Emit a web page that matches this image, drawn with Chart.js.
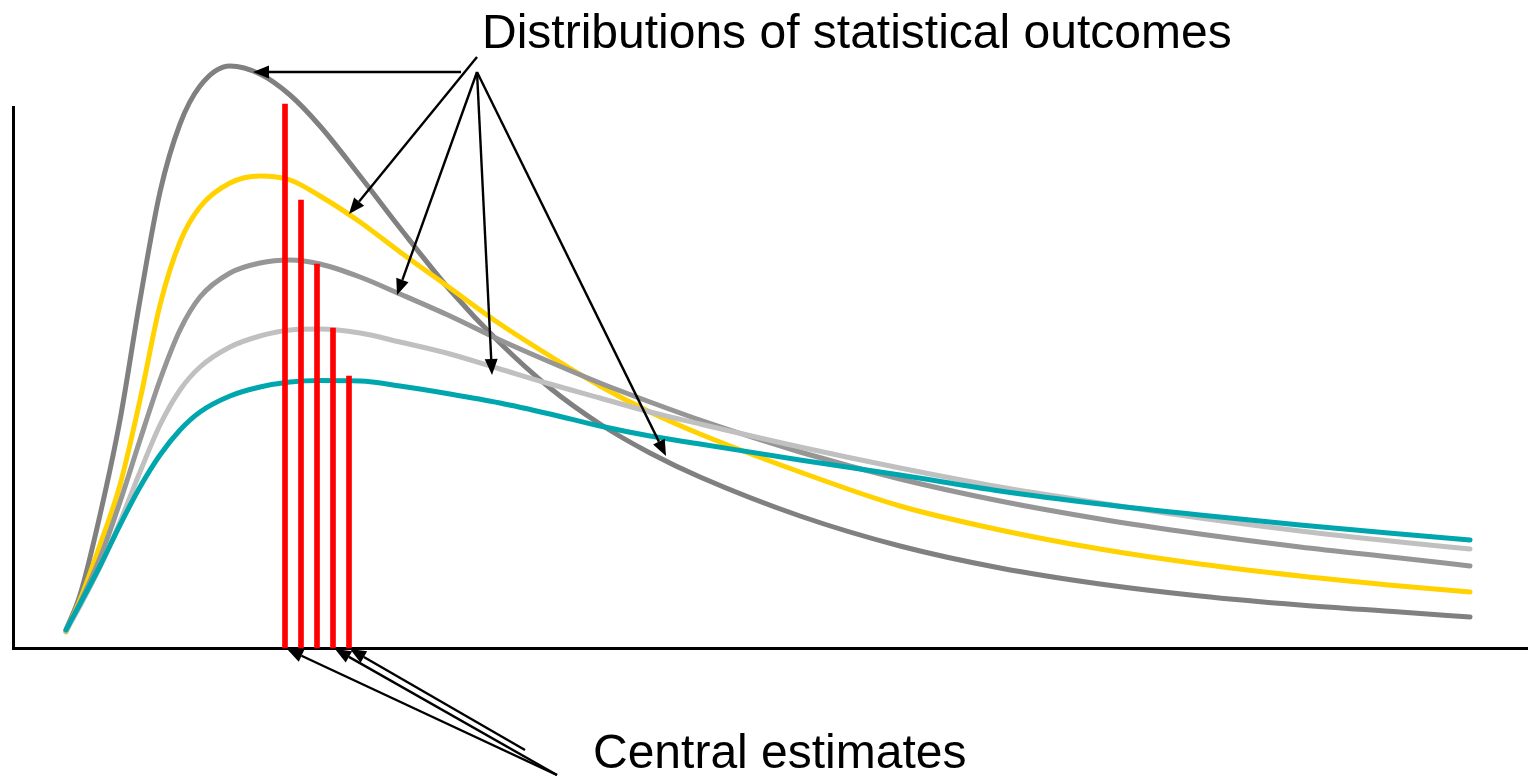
<!DOCTYPE html>
<html>
<head>
    <meta charset="UTF-8">
    <script src="https://cdn.jsdelivr.net/npm/chart.js@4.4.0/dist/chart.umd.min.js"></script>
    <style>
        html, body { margin: 0; padding: 0; background: #fff; }
    </style>
</head>
<body>
    <canvas id="myChart" width="1528" height="776"></canvas>
    <script>
        // outcome axis (shared by all five curves)
        const xs = [5.3, 6.7, 8.7, 10.7, 12.7, 14.7, 16.7, 18.7, 21.7, 24.7, 27.7, 30.7, 34.7, 38.7, 43.7,
            48.7, 53.7, 58.7, 63.7, 68.7, 78.7, 88.7, 98.7, 108.7, 118.7, 128.7, 138.7, 145.7];

        const darkGrey = [1.8, 5.3, 13.3, 22.8, 34.8, 45.6, 52.4, 56.2, 58.2, 57.4, 55.3, 52.2, 47.2, 42.0, 35.8,
            30.5, 26.0, 22.4, 19.5, 17.1, 13.2, 10.2, 8.0, 6.4, 5.2, 4.3, 3.6, 3.1];
        const yellow = [1.6, 4.8, 10.3, 16.3, 24.8, 34.3, 40.6, 44.1, 46.5, 47.2, 46.8, 45.2, 42.6, 39.6, 36.0,
            32.4, 29.2, 26.2, 23.6, 21.4, 17.6, 14.2, 11.8, 9.9, 8.4, 7.2, 6.2, 5.6];
        const midGrey = [1.7, 4.5, 9.0, 14.6, 20.8, 26.8, 31.8, 35.1, 37.5, 38.5, 38.8, 38.4, 37.1, 35.4, 33.2,
            30.8, 28.6, 26.5, 24.6, 22.8, 19.6, 16.9, 14.7, 12.9, 11.4, 10.1, 9.0, 8.2];
        const lightGrey = [1.7, 4.2, 8.1, 12.6, 17.6, 22.3, 25.8, 28.1, 30.1, 31.2, 31.8, 31.9, 31.5, 30.6, 29.4,
            27.9, 26.4, 25.0, 23.6, 22.4, 20.1, 18.0, 16.1, 14.5, 13.0, 11.7, 10.6, 9.9];
        const teal = [1.8, 4.4, 8.2, 12.3, 16.1, 19.3, 21.8, 23.6, 25.2, 26.1, 26.6, 26.75, 26.7, 26.2, 25.4,
            24.5, 23.4, 22.2, 21.2, 20.4, 18.8, 17.3, 15.7, 14.4, 13.3, 12.3, 11.4, 10.8];

        // central estimates (red bars)
        const centralX = [27.2, 28.8, 30.4, 32.0, 33.6];
        const centralY = [54.4, 44.8, 38.4, 32.0, 27.2];

        // annotation arrows [fromX, fromY, toX, toY] in chart units
        const arrows = [
            [44.8, 57.6, 24.0, 57.6],
            [46.4, 59.1, 33.6, 43.4],
            [46.4, 57.6, 38.4, 35.3],
            [46.4, 57.6, 47.9, 27.3],
            [46.4, 57.6, 65.3, 19.2],
            [54.4, -12.7, 27.4, -0.1],
            [54.4, -12.7, 32.2, -0.1],
            [51.2, -10.2, 33.7, -0.1]
        ];
        const labels = [
            { text: 'Distributions of statistical outcomes', x: 46.9, y: 60.0 },
            { text: 'Central estimates', x: 58.0, y: -12.0 }
        ];

        const pts = ys => xs.map((x, i) => ({ x: x, y: ys[i] }));

        function drawArrow(ctx, x1, y1, x2, y2) {
            const a = Math.atan2(y2 - y1, x2 - x1);
            const len = 16, half = 6.5;
            const bx = x2 - len * Math.cos(a), by = y2 - len * Math.sin(a);
            ctx.beginPath();
            ctx.moveTo(x1, y1);
            ctx.lineTo(bx, by);
            ctx.stroke();
            ctx.beginPath();
            ctx.moveTo(x2, y2);
            ctx.lineTo(bx + half * Math.sin(a), by - half * Math.cos(a));
            ctx.lineTo(bx - half * Math.sin(a), by + half * Math.cos(a));
            ctx.closePath();
            ctx.fill();
        }

        const annotate = {
            id: 'annotate',
            afterDatasetsDraw(chart) {
                const { ctx, scales: { x, y } } = chart;
                ctx.save();
                ctx.strokeStyle = '#000';
                ctx.fillStyle = '#000';
                ctx.lineWidth = 2.4;
                arrows.forEach(a => drawArrow(ctx, x.getPixelForValue(a[0]), y.getPixelForValue(a[1]),
                    x.getPixelForValue(a[2]), y.getPixelForValue(a[3])));
                ctx.font = '48px "Liberation Sans", Arial, sans-serif';
                ctx.textBaseline = 'alphabetic';
                labels.forEach(l => ctx.fillText(l.text, x.getPixelForValue(l.x), y.getPixelForValue(l.y)));
                ctx.restore();
            }
        };

        const curve = (data, color) => ({
            type: 'line',
            data: pts(data),
            borderColor: color,
            borderWidth: 5,
            borderCapStyle: 'round',
            borderJoinStyle: 'round',
            pointRadius: 0,
            cubicInterpolationMode: 'monotone',
            fill: false,
            clip: false
        });

        const axis = (max) => ({
            type: 'linear',
            min: 0,
            max: max,
            offset: false,
            grid: { display: false, drawTicks: false, tickLength: 0 },
            ticks: { display: false },
            border: { display: true, color: '#000', width: 3 }
        });

        new Chart(document.getElementById('myChart').getContext('2d'), {
            type: 'line',
            data: {
                datasets: [
                    {
                        type: 'bar',
                        data: centralX.map((x, i) => ({ x: x, y: centralY[i] })),
                        backgroundColor: '#ff0000',
                        barThickness: 5,
                        clip: false
                    },
                    curve(teal, '#00a6ae'),
                    curve(lightGrey, '#c0c0c0'),
                    curve(midGrey, '#969696'),
                    curve(yellow, '#ffd200'),
                    curve(darkGrey, '#808080')
                ]
            },
            options: {
                responsive: false,
                animation: false,
                devicePixelRatio: 1,
                layout: { autoPadding: false, padding: { left: 13, top: 107, right: 0, bottom: 128 } },
                plugins: { legend: { display: false }, tooltip: { enabled: false } },
                scales: {
                    x: axis(151.5),
                    y: axis(54.1)
                }
            },
            plugins: [annotate]
        });
    </script>
</body>
</html>
